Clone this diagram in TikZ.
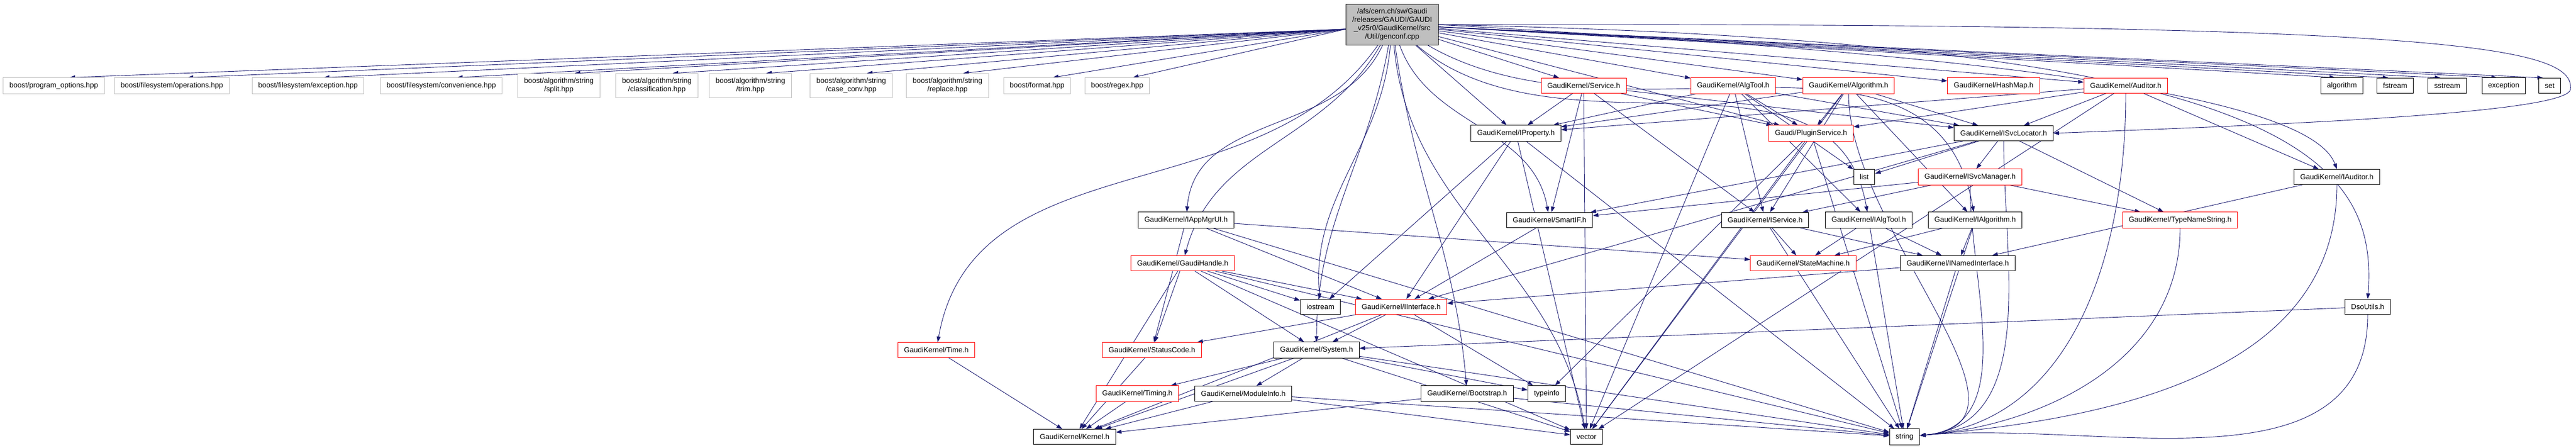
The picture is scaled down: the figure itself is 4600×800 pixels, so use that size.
\documentclass[tikz,border=0pt]{standalone}
\usepackage{fontspec}
\setmainfont{Liberation Sans}
\usetikzlibrary{arrows.meta}
\definecolor{edgeblue}{HTML}{191970}
\definecolor{boostgray}{HTML}{BFBFBF}
\pgfdeclarelayer{edges}
\pgfsetlayers{edges,main}
\tikzset{
  hdr/.style={draw=black, fill=white, line width=1pt, font=\fontsize{13}{15}\selectfont,
    inner xsep=11pt, inner ysep=8pt, minimum height=27pt, align=center},
  extern/.style={hdr, draw=boostgray},
  cut/.style={hdr, draw=red},
  inc/.style={draw=edgeblue, line width=0.9pt, -{Triangle[length=10pt,width=7pt]}}
}
\begin{document}
\begin{tikzpicture}[x=1pt, y=1pt]
	\useasboundingbox (0,0) rectangle (4600,-800);
	
	\node[hdr, fill=boostgray] (rt) at (2486,-44) {/afs/cern.ch/sw/Gaudi\\/releases/GAUDI/GAUDI\\\_v25r0/GaudiKernel/src\\/Util/genconf.cpp};
	
	% first row
	\foreach \n/\x/\t in {b1/96/{boost/program\_options.hpp}, b2/307/{boost/filesystem/operations.hpp},
		b3/550/{boost/filesystem/exception.hpp}, b4/788/{boost/filesystem/convenience.hpp},
		b5/998/{boost/algorithm/string\\/split.hpp}, b6/1173/{boost/algorithm/string\\/classification.hpp},
		b7/1340/{boost/algorithm/string\\/trim.hpp}, b8/1520/{boost/algorithm/string\\/case\_conv.hpp},
		b9/1692/{boost/algorithm/string\\/replace.hpp}, b10/1852/{boost/format.hpp}, b11/1995/{boost/regex.hpp}}
	\node[extern] (\n) at (\x,-153) {\t};
	
	\node[cut] (svc) at (2828,-153) {GaudiKernel/Service.h};
	\node[cut] (atl) at (3095,-153) {GaudiKernel/AlgTool.h};
	\node[cut] (alg) at (3301,-153) {GaudiKernel/Algorithm.h};
	\node[cut] (hmap) at (3560,-153) {GaudiKernel/HashMap.h};
	\node[cut] (aud) at (3796,-153) {GaudiKernel/Auditor.h};
	\foreach \n/\x/\t in {algo/4182/algorithm, fstr/4277/fstream, sstr/4370/sstream, excp/4471/exception, sset/4553/set}
	\node[hdr] (\n) at (\x,-153) {\t};
	
	\node[hdr] (ip) at (2707,-238) {GaudiKernel/IProperty.h};
	\node[cut] (ps) at (3234,-238) {Gaudi/PluginService.h};
	\node[hdr] (isl) at (3578,-238) {GaudiKernel/ISvcLocator.h};
	
	\node[hdr] (lst) at (3329,-316) {list};
	\node[cut] (ism) at (3518,-316) {GaudiKernel/ISvcManager.h};
	\node[hdr] (iaud) at (4173,-316) {GaudiKernel/IAuditor.h};
	
	\node[hdr] (iam) at (2118,-393) {GaudiKernel/IAppMgrUI.h};
	\node[hdr] (sif) at (2767,-393) {GaudiKernel/SmartIF.h};
	\node[hdr] (isv) at (3152,-393) {GaudiKernel/IService.h};
	\node[hdr] (iat) at (3337,-393) {GaudiKernel/IAlgTool.h};
	\node[hdr] (ialg) at (3527,-393) {GaudiKernel/IAlgorithm.h};
	\node[cut] (tns) at (3893,-393) {GaudiKernel/TypeNameString.h};
	
	\node[cut] (gh) at (2112,-470) {GaudiKernel/GaudiHandle.h};
	\node[cut] (sm) at (3220,-470) {GaudiKernel/StateMachine.h};
	\node[hdr] (ini) at (3496,-470) {GaudiKernel/INamedInterface.h};
	
	\node[hdr] (ios) at (2358,-548) {iostream};
	\node[cut] (ii) at (2502,-548) {GaudiKernel/IInterface.h};
	\node[hdr] (dso) at (4228,-548) {DsoUtils.h};
	
	\node[cut] (tm) at (1672,-625) {GaudiKernel/Time.h};
	\node[cut] (sc) at (2057,-625) {GaudiKernel/StatusCode.h};
	\node[hdr] (sys) at (2351,-625) {GaudiKernel/System.h};
	
	\node[cut] (tmg) at (2031,-703) {GaudiKernel/Timing.h};
	\node[hdr] (mi) at (2220,-703) {GaudiKernel/ModuleInfo.h};
	\node[hdr] (bs) at (2620,-703) {GaudiKernel/Bootstrap.h};
	\node[hdr] (tinfo) at (2762,-703) {typeinfo};
	
	\node[hdr] (ker) at (1919,-780) {GaudiKernel/Kernel.h};
	\node[hdr] (vec) at (2833,-780) {vector};
	\node[hdr] (str) at (3401,-780) {string};
	
	\begin{pgfonlayer}{edges}
	% includes of genconf.cpp
	\foreach \t in {b1,b2,b3,b4,b5,b6,b7,b8,b9,b10,b11}
	\draw[inc] ([yshift=-8pt]rt.west) -- ([xshift=28pt]\t.north);
	\foreach \t in {algo,fstr,sstr,excp,sset}
	\draw[inc] ([yshift=-4pt]rt.east) -- ([xshift=-12pt]\t.north);
	\foreach \t in {svc,atl,alg,hmap,aud,ip,ps}
	\draw[inc] (rt) -- (\t);
	\draw[inc] (rt.east) .. controls (4350,-40) and (4600,-80) .. (4590,-160)
		.. controls (4580,-205) and (4000,-225) .. (isl.east);
	\draw[inc] (rt) to[out=-125,in=80] (tm);
	\draw[inc] (rt) to[out=-120,in=75] (gh);
	\draw[inc] (rt) to[out=-115,in=85] (iam);
	\draw[inc] (rt) to[out=-100,in=90] (sys);
	\draw[inc] (rt) to[out=-95,in=95] (ios);
	\draw[inc] (rt) to[out=-82,in=95] (bs);
	\draw[inc] (rt) to[out=-85,in=100] (vec);
	\draw[inc] (rt) to[out=-70,in=100] (sif);
	\draw[inc] (rt) to[out=-40,in=100] (iat);
	\draw[inc] (rt) to[out=-30,in=100] (ialg);
	\draw[inc] (rt.east) .. controls +(700,-40) and +(-60,160) .. (iaud.north);
	\draw[inc] (rt.east) .. controls +(1500,-30) and +(20,260) .. (dso.north);
	
	% the headers among themselves
	\foreach \a/\b in {svc/ip, svc/ps, svc/isl, svc/isv, svc/sif, svc/vec,
		atl/ip, atl/ps, atl/isl, atl/isv, atl/iat, atl/lst, atl/vec,
		alg/ip, alg/ps, alg/isl, alg/ialg, alg/isv, alg/vec,
		aud/ip, aud/ps, aud/isl, aud/iaud, aud/vec,
		ip/ii, ip/ios, ip/str, ip/vec, ps/tinfo, ps/str, ps/vec,
		isl/ii, isl/lst, isl/ism, isl/tns, isl/sif, ism/isv, ism/sif, ism/tns,
		iaud/ini, iam/ii, iam/sm, iam/sc, iam/str, sif/ii,
		isv/ini, isv/sm, isv/str, iat/ini, iat/sm, iat/str, ialg/ini, ialg/sm, ialg/str,
		gh/ii, gh/ios, gh/sys, gh/sc, gh/ker, gh/vec, gh/str, ini/ii, ini/str,
		ii/sc, ii/sys, ii/ker, ii/tinfo, dso/sys, tm/ker, sc/ker,
		sys/ker, sys/tmg, sys/mi, sys/tinfo, sys/vec, sys/str, tmg/ker,
		mi/ker, mi/str, mi/vec, bs/ker, bs/str}
	\draw[inc] (\a) -- (\b);
	\foreach \a in {tns, iaud, dso, aud, isl, ism, alg}
	\draw[inc] (\a) to[out=-90,in=5] (str);
	\end{pgfonlayer}
	
\end{tikzpicture}
\end{document}
